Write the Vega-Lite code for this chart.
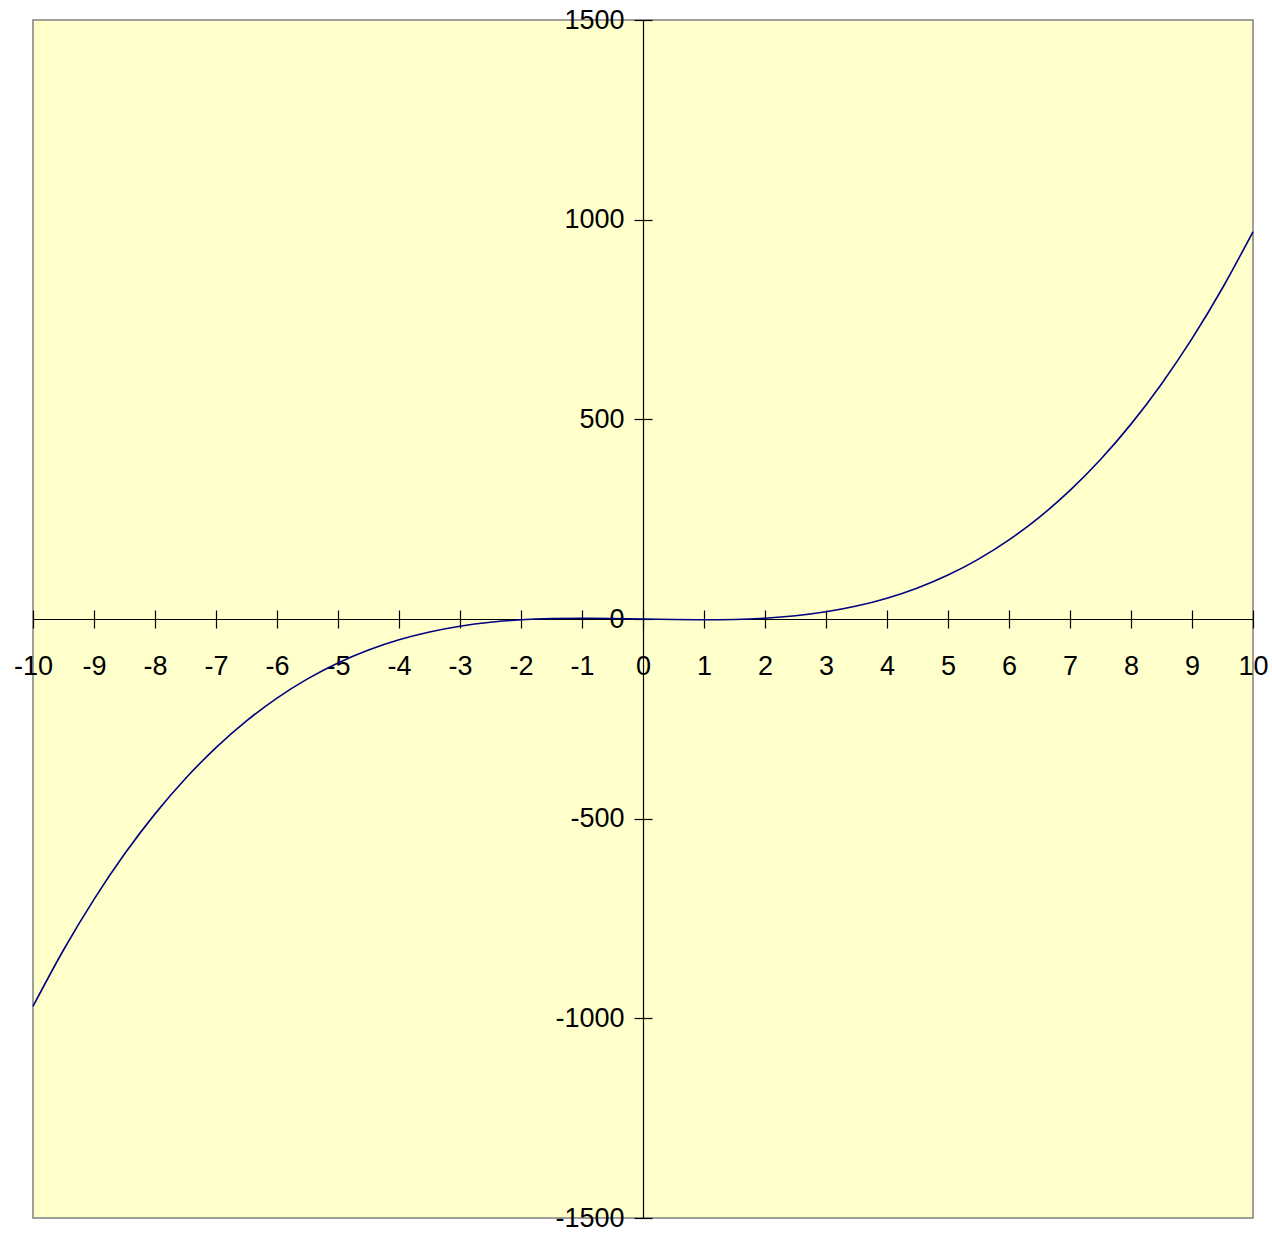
{
  "$schema": "https://vega.github.io/schema/vega-lite/v6.json",
  "width": 1220,
  "height": 1198,
  "autosize": {"type": "none"},
  "padding": {"left": 33, "top": 20, "right": 19, "bottom": 21},
  "background": "#FFFFFF",
  "config": {
    "view": {"fill": "#FFFFCC", "stroke": "#808080", "strokeWidth": 1.5},
    "axis": {
      "grid": false,
      "domainColor": "#000000",
      "domainWidth": 1.2,
      "tickColor": "#000000",
      "tickWidth": 1.2,
      "tickSize": 9,
      "labelFont": "Liberation Sans",
      "labelFontSize": 27,
      "labelColor": "#000000",
      "labelOverlap": false,
      "labelBound": false,
      "labelFlush": false,
      "labelExpr": "'' + datum.value",
      "title": null
    }
  },
  "data": {
    "values": [
      {"x": -10, "y": -970}, {"x": -9.5, "y": -828.875}, {"x": -9, "y": -702}, {"x": -8.5, "y": -588.625},
      {"x": -8, "y": -488}, {"x": -7.5, "y": -399.375}, {"x": -7, "y": -322}, {"x": -6.5, "y": -255.125},
      {"x": -6, "y": -198}, {"x": -5.5, "y": -149.875}, {"x": -5, "y": -110}, {"x": -4.5, "y": -77.625},
      {"x": -4, "y": -52}, {"x": -3.5, "y": -32.375}, {"x": -3, "y": -18}, {"x": -2.5, "y": -8.125},
      {"x": -2, "y": -2}, {"x": -1.5, "y": 1.125}, {"x": -1, "y": 2}, {"x": -0.5, "y": 1.375},
      {"x": 0, "y": 0},
      {"x": 0.5, "y": -1.375}, {"x": 1, "y": -2}, {"x": 1.5, "y": -1.125}, {"x": 2, "y": 2},
      {"x": 2.5, "y": 8.125}, {"x": 3, "y": 18}, {"x": 3.5, "y": 32.375}, {"x": 4, "y": 52},
      {"x": 4.5, "y": 77.625}, {"x": 5, "y": 110}, {"x": 5.5, "y": 149.875}, {"x": 6, "y": 198},
      {"x": 6.5, "y": 255.125}, {"x": 7, "y": 322}, {"x": 7.5, "y": 399.375}, {"x": 8, "y": 488},
      {"x": 8.5, "y": 588.625}, {"x": 9, "y": 702}, {"x": 9.5, "y": 828.875}, {"x": 10, "y": 970}
    ]
  },
  "resolve": {"axis": {"x": "independent", "y": "independent"}},
  "layer": [
    {
      "mark": {"type": "line", "color": "#000080", "strokeWidth": 1.6, "interpolate": "monotone"},
      "encoding": {
        "x": {
          "field": "x", "type": "quantitative",
          "scale": {"domain": [-10, 10], "nice": false, "zero": false},
          "axis": {
            "orient": "bottom", "offset": -599,
            "values": [-10, -9, -8, -7, -6, -5, -4, -3, -2, -1, 0, 1, 2, 3, 4, 5, 6, 7, 8, 9, 10],
            "labelPadding": 25
          }
        },
        "y": {
          "field": "y", "type": "quantitative",
          "scale": {"domain": [-1500, 1500], "nice": false, "zero": false},
          "axis": {
            "orient": "left", "offset": -610,
            "values": [-1500, -1000, -500, 0, 500, 1000, 1500],
            "labelPadding": 10
          }
        }
      }
    },
    {
      "mark": {"type": "line", "opacity": 0},
      "encoding": {
        "x": {
          "field": "x", "type": "quantitative",
          "scale": {"domain": [-10, 10], "nice": false, "zero": false},
          "axis": {
            "orient": "top", "offset": -599, "labels": false, "domain": false,
            "values": [-10, -9, -8, -7, -6, -5, -4, -3, -2, -1, 0, 1, 2, 3, 4, 5, 6, 7, 8, 9, 10]
          }
        },
        "y": {
          "field": "y", "type": "quantitative",
          "scale": {"domain": [-1500, 1500], "nice": false, "zero": false},
          "axis": {
            "orient": "right", "offset": -610, "labels": false, "domain": false,
            "values": [-1500, -1000, -500, 0, 500, 1000, 1500]
          }
        }
      }
    }
  ]
}
